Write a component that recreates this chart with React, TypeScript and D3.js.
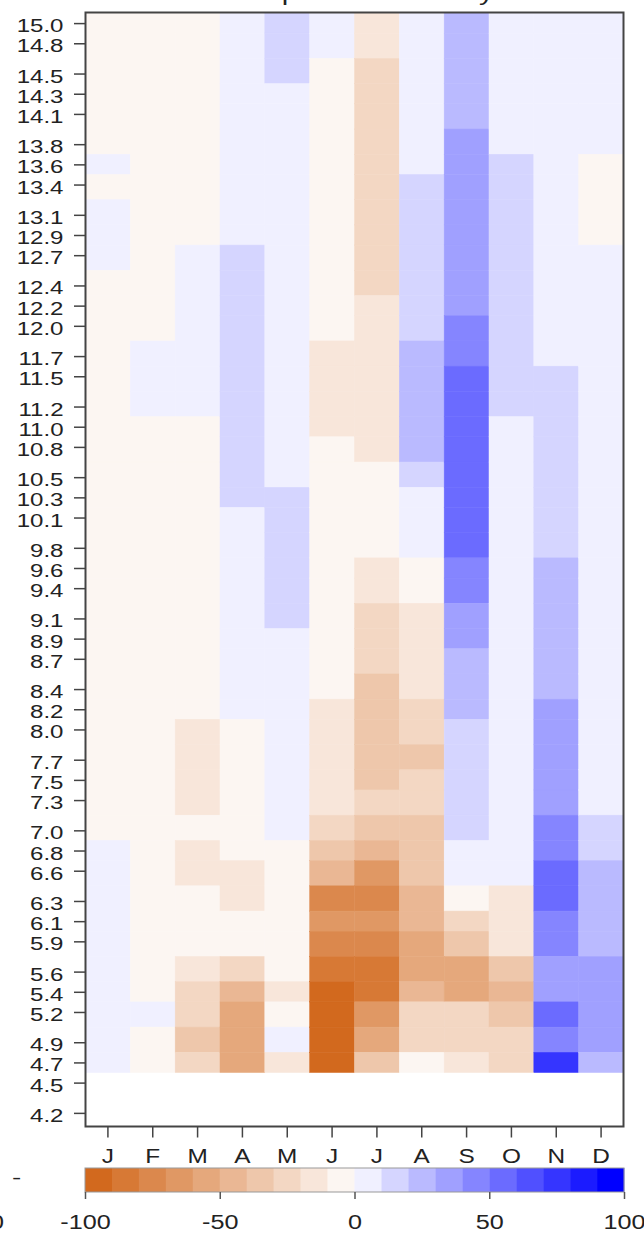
import React, { useEffect, useRef } from "react";
import * as d3 from "d3";

// months along x
const months = ["Jan", "Feb", "Mar", "Apr", "May", "Jun", "Jul", "Aug", "Sep", "Oct", "Nov", "Dec"];
const monthLetters = ["J", "F", "M", "A", "M", "J", "J", "A", "S", "O", "N", "D"];

// y tick levels, top to bottom (4.5 and 4.2 carry no data)
const yLevels = [
  15.0, 14.8, 14.5, 14.3, 14.1, 13.8, 13.6, 13.4, 13.1, 12.9, 12.7, 12.4, 12.2, 12.0,
  11.7, 11.5, 11.2, 11.0, 10.8, 10.5, 10.3, 10.1, 9.8, 9.6, 9.4, 9.1, 8.9, 8.7, 8.4,
  8.2, 8.0, 7.7, 7.5, 7.3, 7.0, 6.8, 6.6, 6.3, 6.1, 5.9, 5.6, 5.4, 5.2, 4.9, 4.7, 4.5, 4.2,
];

// cell values per month, top (15.0) to bottom (4.7)
const jan = [-5, -5, -5, -5, -5, -5, 5, -5, 5, 5, 5, -5, -5, -5, -5, -5, -5, -5, -5, -5, -5, -5, -5, -5, -5, -5, -5, -5, -5, -5, -5, -5, -5, -5, -5, 5, 5, 5, 5, 5, 5, 5, 5, 5, 5];
const feb = [-5, -5, -5, -5, -5, -5, -5, -5, -5, -5, -5, -5, -5, -5, 5, 5, 5, -5, -5, -5, -5, -5, -5, -5, -5, -5, -5, -5, -5, -5, -5, -5, -5, -5, -5, -5, -5, -5, -5, -5, -5, -5, 5, -5, -5];
const mar = [-5, -5, -5, -5, -5, -5, -5, -5, -5, -5, 5, 5, 5, 5, 5, 5, 5, -5, -5, -5, -5, -5, -5, -5, -5, -5, -5, -5, -5, -5, -15, -15, -15, -15, -5, -15, -15, -5, -5, -5, -15, -25, -25, -35, -25];
const apr = [5, 5, 5, 5, 5, 5, 5, 5, 5, 5, 15, 15, 15, 15, 15, 15, 15, 15, 15, 15, 15, 5, 5, 5, 5, 5, 5, 5, 5, 5, -5, -5, -5, -5, -5, -5, -15, -15, -5, -5, -25, -45, -55, -55, -55];
const may = [15, 15, 15, 5, 5, 5, 5, 5, 5, 5, 5, 5, 5, 5, 5, 5, 5, 5, 5, 5, 15, 15, 15, 15, 15, 15, 5, 5, 5, 5, 5, 5, 5, 5, 5, -5, -5, -5, -5, -5, -5, -15, -5, 5, -15];
const jun = [5, 5, -5, -5, -5, -5, -5, -5, -5, -5, -5, -5, -5, -5, -15, -15, -15, -15, -5, -5, -5, -5, -5, -5, -5, -5, -5, -5, -5, -15, -15, -15, -15, -15, -25, -35, -45, -75, -65, -75, -85, -95, -95, -95, -95];
const jul = [-15, -15, -25, -25, -25, -25, -25, -25, -25, -25, -25, -25, -15, -15, -15, -15, -15, -15, -15, -5, -5, -5, -5, -15, -15, -25, -25, -25, -35, -35, -35, -35, -35, -25, -35, -45, -65, -75, -65, -75, -85, -85, -65, -55, -35];
const aug = [5, 5, 5, 5, 5, 5, 5, 15, 15, 15, 15, 15, 15, 15, 25, 25, 25, 25, 25, 15, 5, 5, 5, -5, -5, -15, -15, -15, -15, -25, -25, -35, -25, -25, -35, -35, -35, -45, -45, -55, -55, -45, -25, -25, -5];
const sep = [25, 25, 25, 25, 25, 35, 35, 35, 35, 35, 35, 35, 35, 45, 45, 55, 55, 55, 55, 55, 55, 55, 55, 45, 45, 35, 35, 25, 25, 25, 15, 15, 15, 15, 15, 5, 5, -5, -25, -35, -55, -55, -25, -25, -15];
const oct = [5, 5, 5, 5, 5, 5, 15, 15, 15, 15, 15, 15, 15, 15, 15, 15, 15, 5, 5, 5, 5, 5, 5, 5, 5, 5, 5, 5, 5, 5, 5, 5, 5, 5, 5, 5, 5, -15, -15, -15, -35, -45, -35, -25, -25];
const nov = [5, 5, 5, 5, 5, 5, 5, 5, 5, 5, 5, 5, 5, 5, 5, 15, 15, 15, 15, 15, 15, 15, 15, 25, 25, 25, 25, 25, 25, 35, 35, 35, 35, 35, 45, 45, 55, 55, 45, 45, 35, 35, 55, 45, 75];
const dec = [5, 5, 5, 5, 5, 5, -5, -5, -5, -5, 5, 5, 5, 5, 5, 5, 5, 5, 5, 5, 5, 5, 5, 5, 5, 5, 5, 5, 5, 5, 5, 5, 5, 5, 15, 15, 25, 25, 25, 25, 35, 35, 35, 35, 25];

// colour bar
const barTicks = [-100, -50, 0, 50, 100];
const palette = [
  "#D2691E", "#D77935", "#DB884D", "#E09864", "#E5A87C", "#EAB794", "#EEC7AB", "#F3D7C3", "#F8E6DA", "#FCF6F2",
  "#F0F0FF", "#D5D5FF", "#BABAFF", "#A0A0FF", "#8585FF", "#6B6BFF", "#5050FF", "#3535FF", "#1B1BFF", "#0000FF",
];

const FONT = "'Liberation Sans', Arial, Helvetica, sans-serif";

const App = () => {
  const svgRef = useRef<SVGSVGElement>(null);

  useEffect(() => {
    const svg = d3.select(svgRef.current);
    svg.selectAll("*").remove();

    const plot = { left: 85.5, right: 623.5, top: 12.5, bottom: 1126.5 };
    const columns = [jan, feb, mar, apr, may, jun, jul, aug, sep, oct, nov, dec];

    const x = d3.scaleBand().domain(months).range([plot.left, plot.right]);
    const y = d3.scaleLinear().domain([4.065, 15.105]).range([plot.bottom, plot.top]);
    const color = d3.scaleThreshold<number, string>()
      .domain(d3.range(-90, 100, 10))
      .range(palette);

    // cell edges sit halfway between neighbouring levels
    const n = yLevels.length;
    const upper = (i: number) => (i === 0 ? yLevels[0] + (yLevels[0] - yLevels[1]) / 2 : (yLevels[i] + yLevels[i - 1]) / 2);
    const lower = (i: number) => (i === n - 1 ? yLevels[i] - (yLevels[i - 1] - yLevels[i]) / 2 : (yLevels[i] + yLevels[i + 1]) / 2);

    // title (mostly above the page)
    svg.append("text")
      .attr("transform", `translate(${(plot.left + plot.right) / 2},-0.5) scale(1.3,1)`)
      .attr("text-anchor", "middle")
      .attr("font-family", FONT)
      .attr("font-size", 22.4)
      .attr("fill", "#222")
      .text("Precipitation anomaly");

    // cells
    const cells = svg.append("g");
    columns.forEach((col, m) => {
      col.forEach((v, i) => {
        cells.append("rect")
          .attr("x", x(months[m])!)
          .attr("width", x.bandwidth())
          .attr("y", y(upper(i)))
          .attr("height", y(lower(i)) - y(upper(i)))
          .attr("fill", color(v))
          .attr("stroke", color(v))
          .attr("stroke-width", 0.5);
      });
    });

    // frame
    svg.append("rect")
      .attr("x", plot.left)
      .attr("y", plot.top)
      .attr("width", plot.right - plot.left)
      .attr("height", plot.bottom - plot.top)
      .attr("fill", "none")
      .attr("stroke", "#444")
      .attr("stroke-width", 2);

    // Y axis
    const yAxis = svg.append("g")
      .attr("transform", `translate(${plot.left},0)`)
      .call(d3.axisLeft(y).tickValues(yLevels).tickFormat(d3.format(".1f")).tickSize(11.5).tickSizeOuter(0));
    yAxis.select(".domain").remove();
    yAxis.selectAll("line").attr("stroke", "#444").attr("stroke-width", 1.5);
    yAxis.selectAll("text")
      .attr("x", 0).attr("dy", 0)
      .attr("transform", "translate(-22,8.5) scale(1.3,1)")
      .attr("fill", "#222")
      .attr("font-family", FONT)
      .attr("font-size", 18.5);

    // X axis
    const xAxis = svg.append("g")
      .attr("transform", `translate(0,${plot.bottom})`)
      .call(d3.axisBottom(x).tickFormat((d, i) => monthLetters[i]).tickSize(11).tickSizeOuter(0));
    xAxis.select(".domain").remove();
    xAxis.selectAll("line").attr("stroke", "#444").attr("stroke-width", 1.5);
    xAxis.selectAll("text")
      .attr("y", 0).attr("dy", 0)
      .attr("transform", "translate(0,36.5) scale(1.25,1)")
      .attr("fill", "#222")
      .attr("font-family", FONT)
      .attr("font-size", 19.5);

    // colour bar
    const bar = { top: 1168, height: 24 };
    const cx = d3.scaleLinear().domain([-100, 100]).range([85, 624]);
    const binStarts = d3.range(-100, 100, 10);
    svg.append("g").selectAll("rect")
      .data(binStarts)
      .join("rect")
      .attr("x", d => cx(d))
      .attr("width", d => cx(d + 10) - cx(d) + 0.3)
      .attr("y", bar.top)
      .attr("height", bar.height)
      .attr("fill", (d, i) => palette[i]);
    svg.append("rect")
      .attr("x", cx(-100))
      .attr("y", bar.top)
      .attr("width", cx(100) - cx(-100))
      .attr("height", bar.height)
      .attr("fill", "none")
      .attr("stroke", "#999")
      .attr("stroke-width", 1);

    const barAxis = svg.append("g")
      .attr("transform", `translate(0,${bar.top + bar.height})`)
      .call(d3.axisBottom(cx).tickValues(barTicks).tickFormat(d => String(d)).tickSize(7).tickSizeOuter(0));
    barAxis.select(".domain").remove();
    barAxis.selectAll("line").attr("stroke", "#555").attr("stroke-width", 1.5);
    barAxis.selectAll("text")
      .attr("y", 0).attr("dy", 0)
      .attr("transform", "translate(0,37) scale(1.2,1)")
      .attr("fill", "#222")
      .attr("font-family", FONT)
      .attr("font-size", 21);

    // stray marks at the lower left edge
    svg.append("text")
      .attr("transform", "translate(12,1184) scale(1.5,1)")
      .attr("font-family", FONT)
      .attr("font-size", 18.5)
      .attr("fill", "#222")
      .text("-");
    svg.append("text")
      .attr("transform", "translate(4,1229) scale(1.2,1)")
      .attr("text-anchor", "end")
      .attr("font-family", FONT)
      .attr("font-size", 21)
      .attr("fill", "#222")
      .text("0");
  }, []);

  return (
    <div style={{ position: "absolute", left: 0, top: 0, width: 644, height: 1234, background: "white" }}>
      <svg ref={svgRef} width={644} height={1234} style={{ display: "block" }} />
    </div>
  );
};

export default App;
